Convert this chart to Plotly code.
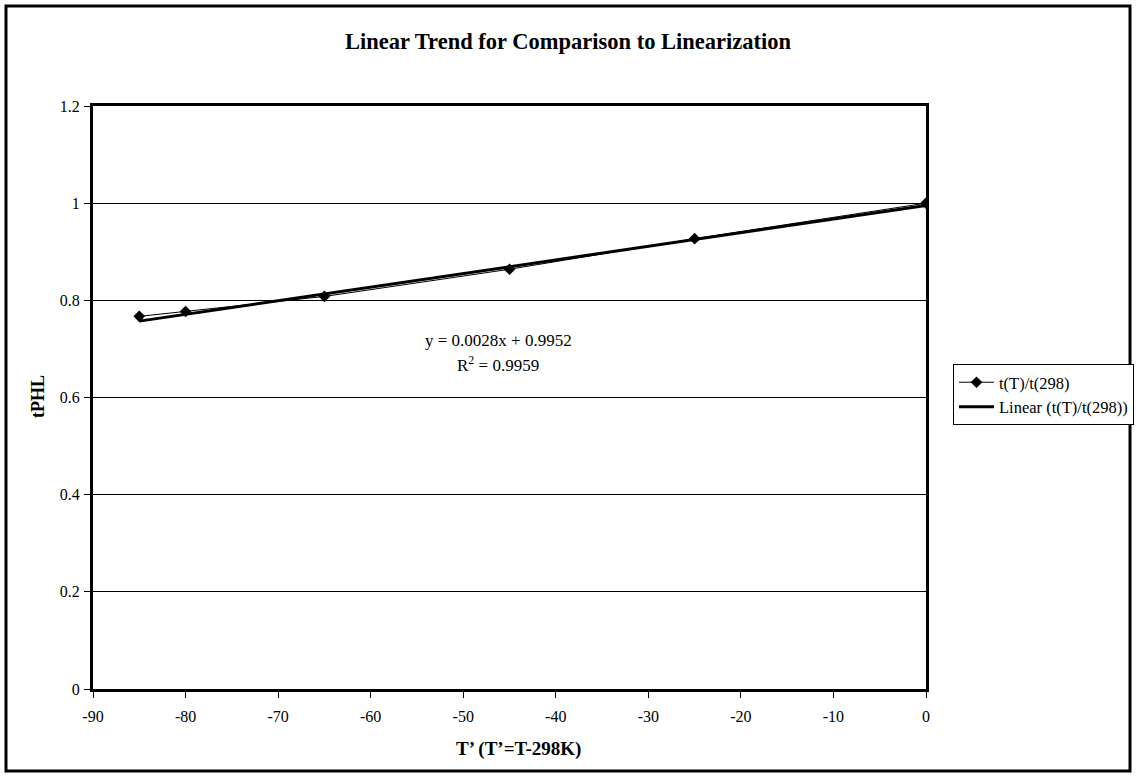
import plotly.graph_objects as go

# Data
x_vals = [-85, -80, -65, -45, -25, 0]
y_vals = [0.767, 0.777, 0.808, 0.864, 0.927, 1.0]
slope = 0.0028
intercept = 0.9952
r2 = 0.9959
x_ticks = [-90, -80, -70, -60, -50, -40, -30, -20, -10, 0]
x_tick_labels = ["-90", "-80", "-70", "-60", "-50", "-40", "-30", "-20", "-10", "0"]
y_ticks = [0, 0.2, 0.4, 0.6, 0.8, 1.0, 1.2]
y_tick_labels = ["0", "0.2", "0.4", "0.6", "0.8", "1", "1.2"]

trend_x = [min(x_vals), max(x_vals)]
trend_y = [slope * v + intercept for v in trend_x]

W, H = 1136, 777
L, R, T, B = 93, 210, 106, 88
pw, ph = W - L - R, H - T - B

def px_x(p):
    return (p - L) / pw

def px_y(p):
    return (H - B - p) / ph

FONT = "Liberation Serif, Times New Roman, serif"

fig = go.Figure()
fig.add_trace(go.Scatter(
    x=x_vals, y=y_vals, mode="lines+markers", name="t(T)/t(298)",
    line=dict(color="black", width=1),
    marker=dict(symbol="diamond", size=9, color="black"),
))
fig.add_trace(go.Scatter(
    x=trend_x, y=trend_y, mode="lines", name="Linear (t(T)/t(298))",
    line=dict(color="black", width=3),
))

fig.add_annotation(x=-46.2, y=0.718, xref="x", yref="y",
                   text="y = 0.0028x + 0.9952", showarrow=False,
                   font=dict(family=FONT, size=17, color="black"))
fig.add_annotation(x=-46.2, y=0.669, xref="x", yref="y",
                   text="R<sup>2</sup> = %.4f" % r2, showarrow=False,
                   font=dict(family=FONT, size=17, color="black"))

# axis titles
fig.add_annotation(x=px_x(38), y=px_y(397), xref="paper", yref="paper",
                   text="<b>tPHL</b>", showarrow=False, textangle=-90,
                   xanchor="center", yanchor="middle",
                   font=dict(family=FONT, size=18, color="black"))
fig.add_annotation(x=px_x(518), y=px_y(749), xref="paper", yref="paper",
                   text="<b>T’ (T’=T-298K)</b>", showarrow=False,
                   xanchor="center", yanchor="middle",
                   font=dict(family=FONT, size=19, color="black"))

# outer chart border
fig.add_shape(type="rect", xref="paper", yref="paper",
              x0=px_x(6), x1=px_x(1130), y0=px_y(771), y1=px_y(6),
              line=dict(color="black", width=3), fillcolor="rgba(0,0,0,0)",
              layer="above")

fig.update_layout(
    width=W, height=H,
    margin=dict(l=L, r=R, t=T, b=B, autoexpand=False),
    paper_bgcolor="white", plot_bgcolor="white",
    font=dict(family=FONT, size=16, color="black"),
    title=dict(text="<b>Linear Trend for Comparison to Linearization</b>",
               x=0.5, xanchor="center",
               y=1 - 41 / H, yanchor="middle",
               font=dict(family=FONT, size=22.5, color="black")),
    showlegend=True,
    legend=dict(x=px_x(953), y=px_y(364), xanchor="left", yanchor="top",
                bordercolor="black", borderwidth=1, bgcolor="white",
                font=dict(family=FONT, size=16.5, color="black"),
                tracegroupgap=0, itemwidth=35),
    xaxis=dict(range=[-90, 0], tickvals=x_ticks, ticktext=x_tick_labels,
               ticks="outside", ticklen=6,
               tickcolor="black", showgrid=False, zeroline=False,
               showline=True, linecolor="black", linewidth=3, mirror=True,
               ticklabelstandoff=5, automargin=False,
               tickfont=dict(family=FONT, size=16, color="black")),
    yaxis=dict(range=[0, 1.2], tickvals=y_ticks, ticktext=y_tick_labels,
               ticks="outside", ticklen=6, tickcolor="black",
               showgrid=True, gridcolor="black", gridwidth=1, zeroline=False,
               showline=True, linecolor="black", linewidth=3, mirror=True,
               ticklabelstandoff=1, automargin=False,
               tickfont=dict(family=FONT, size=16, color="black")),
)

fig.write_html(
    "out.html",
    config={"displayModeBar": False},
    post_script=(
        "document.documentElement.style.overflow='hidden';"
        "document.body.style.margin='0px';"
        "document.body.style.overflow='hidden';"
    ),
)
